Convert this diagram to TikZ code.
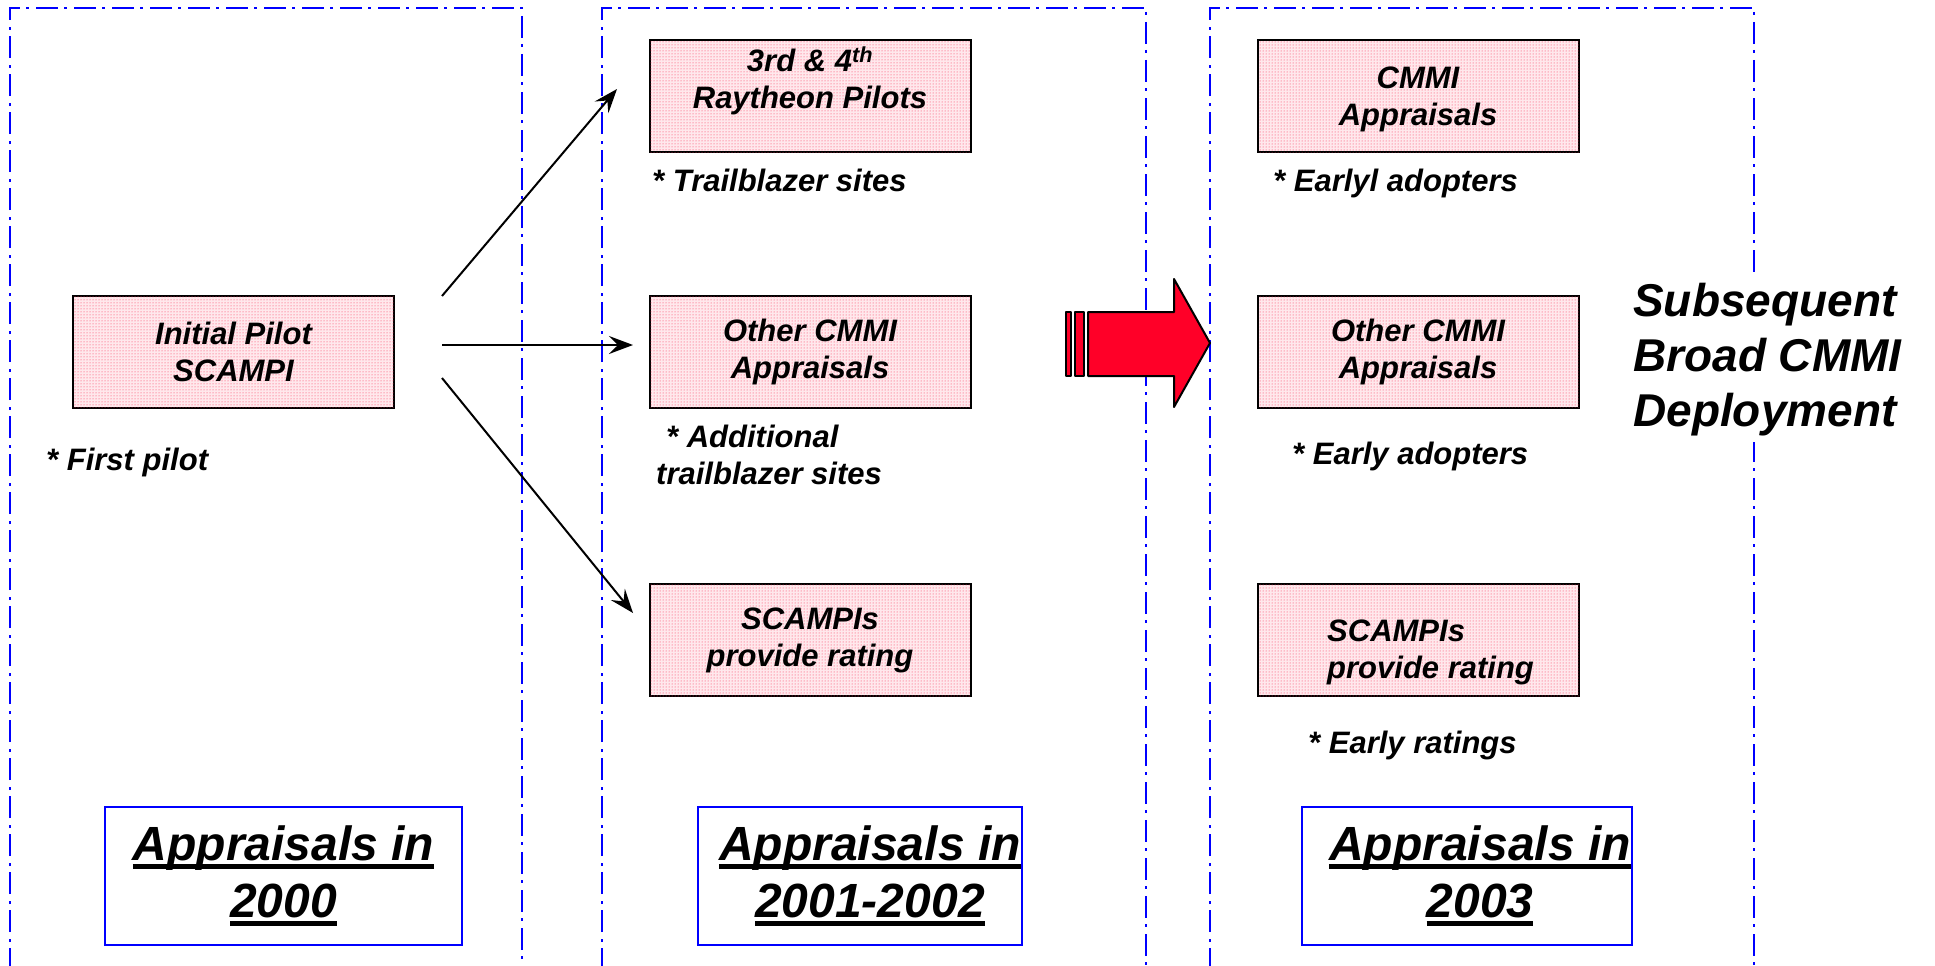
\documentclass[tikz,border=0pt]{standalone}
\usepackage{fontspec}
\setmainfont{Liberation Sans}
\usetikzlibrary{patterns,arrows.meta,calc}
\definecolor{pinkbg}{RGB}{255,232,236}
\definecolor{pinkdot}{RGB}{250,40,80}
\definecolor{arrowred}{RGB}{255,0,40}
\definecolor{panelblue}{RGB}{0,0,255}
\newsavebox\myulbox
\newcommand\thickul[1]{\sbox\myulbox{#1}\rlap{\rule[-8pt]{\wd\myulbox}{4.5pt}}\usebox\myulbox}
\newcommand\boxfont{\fontsize{31}{37}\selectfont\bfseries\itshape}
\newcommand\yearfont{\fontsize{48}{57}\selectfont\bfseries\itshape}
\newcommand\bigfont{\fontsize{46}{55}\selectfont\bfseries\itshape}
\begin{document}
\begin{tikzpicture}[x=1pt,y=-1pt,
  panel/.style={draw=panelblue, line width=2pt, dash pattern=on 22pt off 6pt on 3pt off 7pt},
  pinkbox/.style={draw=black, line width=2pt, fill=pinkbg,
    postaction={pattern=dots, pattern color=pinkdot},
    minimum width=321pt, minimum height=112pt, inner sep=0pt, align=center, font=\boxfont},
  boxtext/.style={inner sep=0pt, align=left, font=\boxfont},
  note/.style={inner sep=0pt, align=left, font=\boxfont, anchor=base west},
  yearbox/.style={draw=panelblue, line width=2pt, fill=white, inner sep=0pt,
    minimum height=138pt, align=center, font=\yearfont},
  redarrow/.style={fill=arrowred, draw=black, line width=2pt, line join=round},
  link/.style={draw=black, line width=2pt, -{Stealth[length=24pt,width=18pt,inset=9pt]}}
]
\useasboundingbox (0,0) rectangle (1935,966);
\fill[white] (0,0) rectangle (1935,966);

% panels
\draw[panel] (10,970) -- (10,8) -- (522,8) -- (522,970);
\draw[panel] (602,970) -- (602,8) -- (1146,8) -- (1146,970);
\draw[panel] (1210,970) -- (1210,8) -- (1754,8) -- (1754,970);

% column 1
\node[pinkbox] (init) at (233.5,351.5) {Initial Pilot\\SCAMPI};
\node[note] (n1) at (46,470) {* First pilot};

% column 2
\node[pinkbox] (ray) at (810,96) {};
\node[boxtext, align=center] (rayt) at (810,81) {3rd \& 4\textsuperscript{th}\\Raytheon Pilots};
\node[note] (n2) at (652,191) {* Trailblazer sites};
\node[pinkbox] (oth2) at (810,351.5) {Other CMMI\\Appraisals};
\node[note] (n3) at (656,484) {\hspace*{10pt}* Additional\\trailblazer sites};
\node[pinkbox] (sc2) at (810,640) {SCAMPIs\\provide rating};

% column 3
\node[pinkbox] (cm3) at (1418,96) {};
\node[boxtext, align=center] (cm3t) at (1418,99) {CMMI\\Appraisals};
\node[note] (n4) at (1273,191) {* Earlyl adopters};
\node[pinkbox] (oth3) at (1418,351.5) {Other CMMI\\Appraisals};
\node[note] (n5) at (1292,464) {* Early adopters};
\node[pinkbox] (sc3) at (1418,640) {};
\node[note] (sc3t) at (1327,678) {SCAMPIs\\provide rating};
\node[note] (n6) at (1308,753) {* Early ratings};

% right text
\node[fill=white, inner sep=6pt, align=left, font=\bigfont, anchor=west] (subs) at (1627,360)
  {Subsequent\\Broad CMMI\\Deployment};

% year boxes
\node[yearbox, minimum width=357pt] (y1) at (283.5,876) {\thickul{Appraisals in}\\\thickul{2000}};
\node[yearbox, minimum width=324pt] (y2) at (860,876)
  {\hspace*{20pt}\thickul{Appraisals in}\\\hspace*{20pt}\thickul{2001-2002}};
\node[yearbox, minimum width=330pt] (y3) at (1467,876)
  {\hspace*{26pt}\thickul{Appraisals in}\\\hspace*{26pt}\thickul{2003}};

% connectors
\coordinate (s1) at (442,296);
\coordinate (s2) at (442,345);
\coordinate (s3) at (442,378);
\coordinate (t1) at (617,89);
\coordinate (t2) at (633,345);
\coordinate (t3) at (633,613);
\draw[link] (s1) -- (t1);
\draw[link] (s2) -- (t2);
\draw[link] (s3) -- (t3);

% big red arrow
\draw[redarrow] (1066,312) rectangle (1071,376);
\draw[redarrow] (1075,312) rectangle (1084,376);
\draw[redarrow] (1088,312) -- (1174,312) -- (1174,279) -- (1210,343) -- (1174,407) -- (1174,376) -- (1088,376) -- cycle;
\end{tikzpicture}
\end{document}
